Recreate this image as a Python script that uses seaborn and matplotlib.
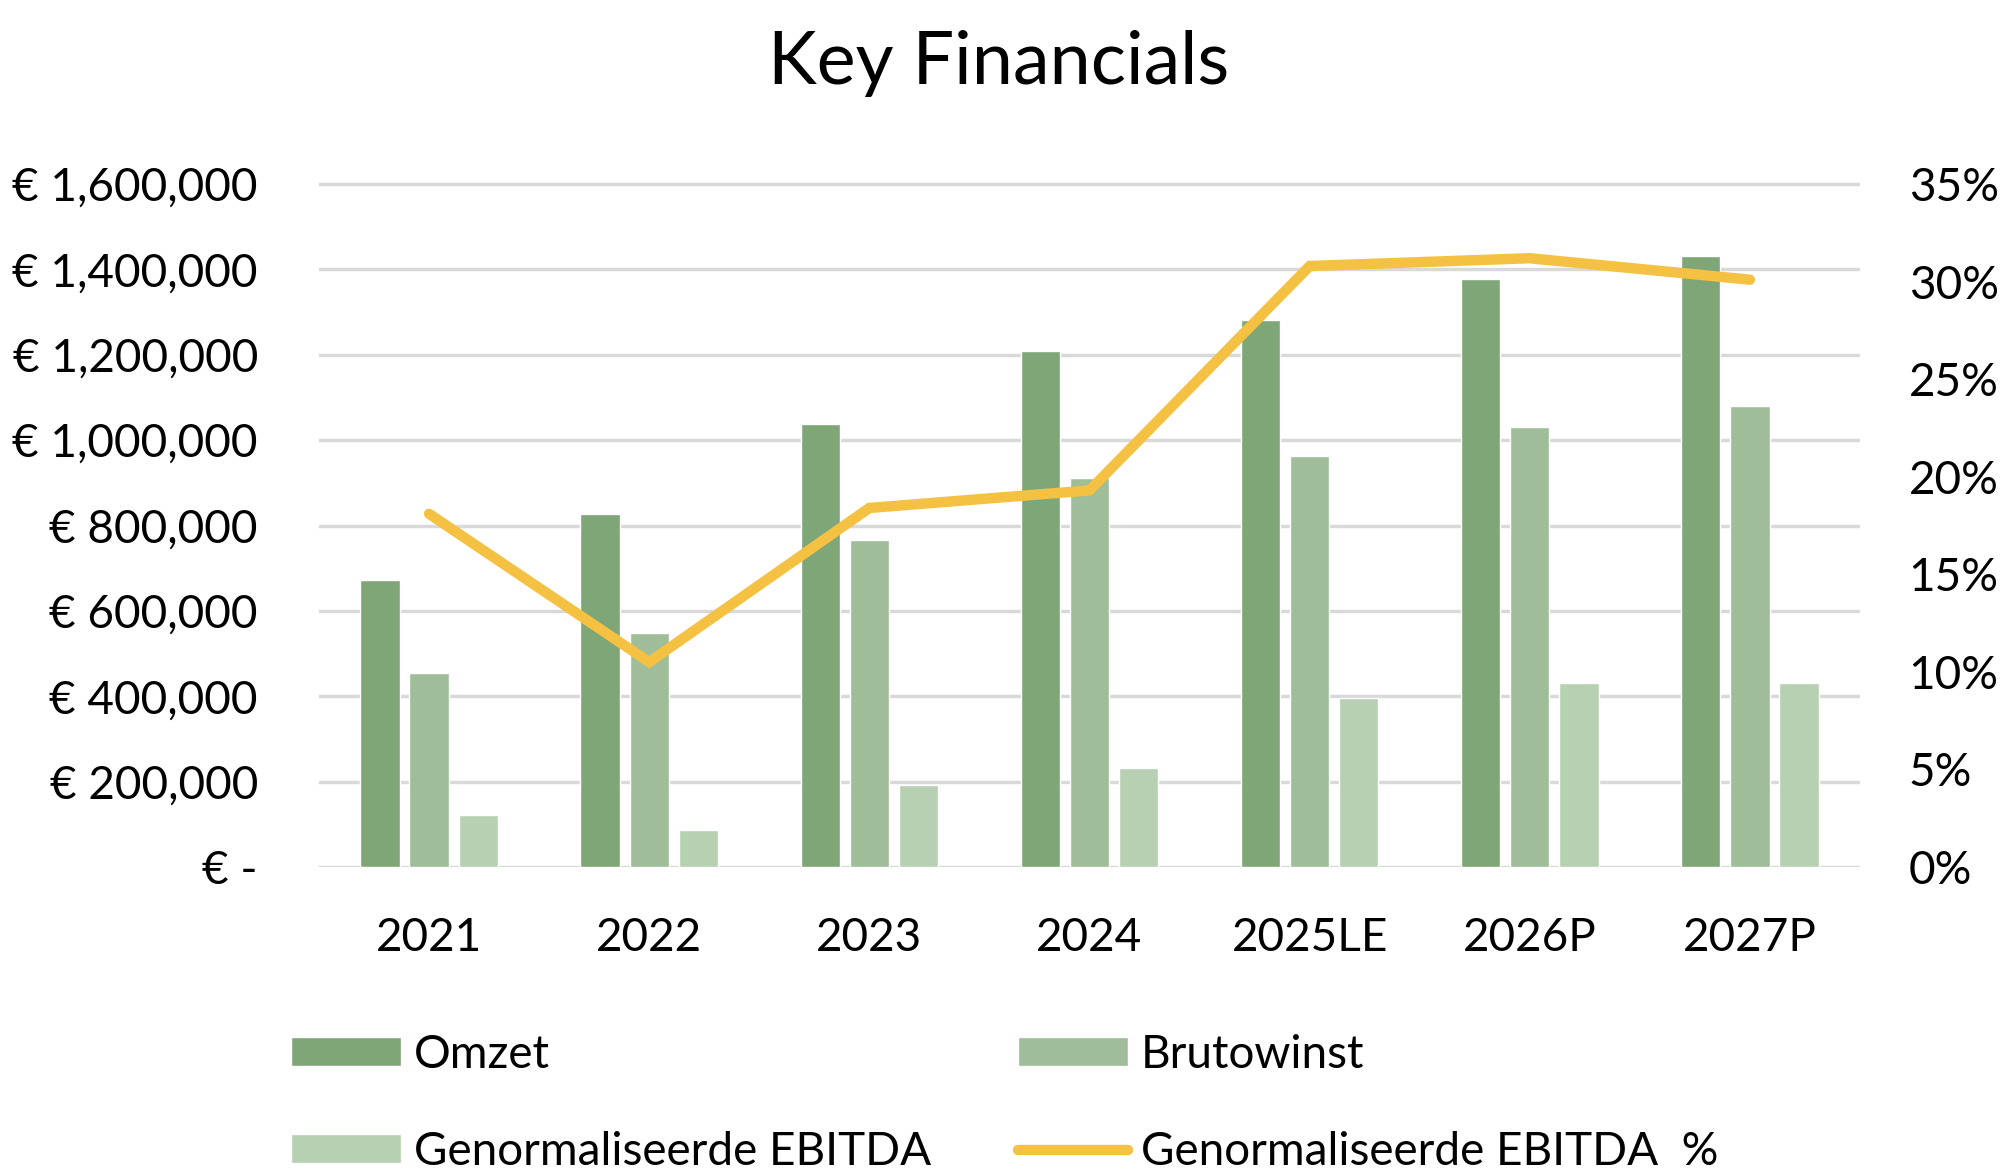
import numpy as np
import pandas as pd
import matplotlib
matplotlib.use("Agg")
import matplotlib.pyplot as plt
import seaborn as sns
from matplotlib.patches import Patch
from matplotlib.lines import Line2D
from matplotlib.ticker import FuncFormatter

years = ["2021", "2022", "2023", "2024", "2025LE", "2026P", "2027P"]
omzet = [673000, 827000, 1037000, 1210000, 1282000, 1377000, 1431000]
brutowinst = [454000, 547000, 766000, 912000, 963000, 1031000, 1079000]
ebitda = [122000, 86000, 191000, 232000, 396000, 432000, 432000]
ebitda_pct = [0.181, 0.105, 0.184, 0.193, 0.308, 0.312, 0.301]

series_names = ["Omzet", "Brutowinst", "Genormaliseerde EBITDA"]
line_name = "Genormaliseerde EBITDA  %"
bar_colors = ["#7EA677", "#9FBD98", "#B8D0B2"]
line_color = "#F4C143"
grid_color = "#D9D9D9"

df = pd.DataFrame({
    "year": years * 3,
    "value": omzet + brutowinst + ebitda,
    "series": [s for s in series_names for _ in years],
})

sns.set_style("white")
plt.rcParams["font.family"] = ["Lato", "DejaVu Sans"]
plt.rcParams["text.color"] = "black"
plt.rcParams["xtick.color"] = "black"
plt.rcParams["ytick.color"] = "black"

fig = plt.figure(figsize=(20, 11.76), dpi=100)
ax = fig.add_axes([0.1595, 0.2628, 0.7705, 0.5824])

sns.barplot(data=df, x="year", y="value", hue="series", palette=bar_colors,
            width=0.67, gap=0.2, ax=ax, legend=False, saturation=1)

ymax = 1.6e6 * 1.003
ax.set_ylim(0, ymax)
ax.set_xlim(-0.5, len(years) - 0.5)
ax.set_yticks(np.arange(0, 1.6e6 + 1, 2e5))
ax.yaxis.set_major_formatter(FuncFormatter(lambda v, p: "€ -" if v == 0 else f"€ {v:,.0f}"))
ax.grid(axis="y", color=grid_color, linewidth=2.5)
ax.set_axisbelow(True)
ax.set_xlabel("")
ax.set_ylabel("")
for sp in ax.spines.values():
    sp.set_visible(False)
ax.tick_params(axis="y", labelsize=33, length=0, pad=44)
ax.tick_params(axis="x", labelsize=33, length=0, pad=36)

ax2 = ax.twinx()
sns.lineplot(x=np.arange(len(years)), y=ebitda_pct, ax=ax2, color=line_color,
             linewidth=7.5, solid_capstyle="round", solid_joinstyle="miter")
ax2.set_ylim(0, ymax / 1.6e6 * 0.35)
ax2.set_yticks(np.arange(0, 0.3501, 0.05))
ax2.yaxis.set_major_formatter(FuncFormatter(lambda v, p: f"{v*100:.0f}%"))
ax2.tick_params(axis="y", labelsize=33, length=0, pad=35)
ax2.grid(False)
for sp in ax2.spines.values():
    sp.set_visible(False)
ax2.set_xlim(-0.5, len(years) - 0.5)

fig.text(0.4995, 0.946, "Key Financials", ha="center", va="center", fontsize=53)

handles = [
    Patch(facecolor=bar_colors[0], label=series_names[0]),
    Patch(facecolor=bar_colors[2], label=series_names[2]),
    Patch(facecolor=bar_colors[1], label=series_names[1]),
    Line2D([0], [0], color=line_color, linewidth=7.5, solid_capstyle="round", label=line_name),
]
fig.legend(handles=handles, ncol=2, loc="upper left",
           bbox_to_anchor=(0.1455, 1 - 1034 / 1176), frameon=False, fontsize=33,
           handlelength=2.4, handleheight=0.6, handletextpad=0.28,
           columnspacing=1.9, labelspacing=1.2, borderpad=0, borderaxespad=0)

fig.savefig("out.png", dpi=100)
